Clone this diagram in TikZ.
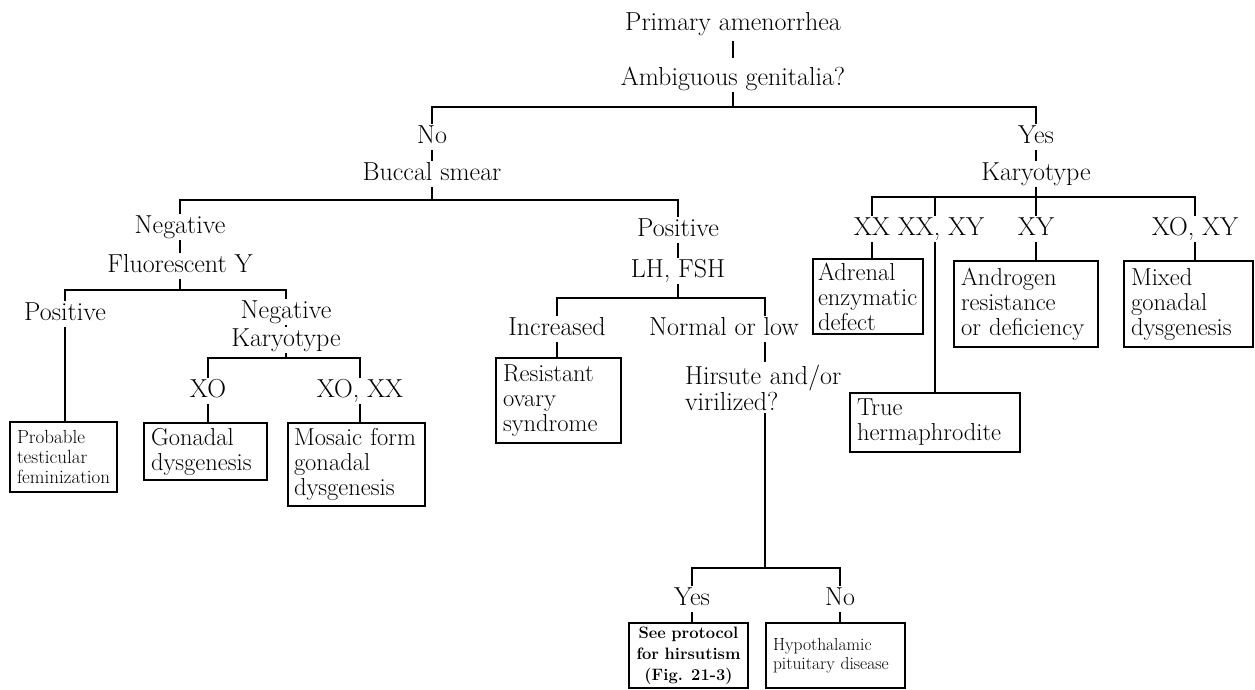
\documentclass[tikz,border=0pt]{standalone}
\begin{document}
\begin{tikzpicture}[x=1pt,y=-1pt,line width=1.8pt,
	txt/.style={font=\fontsize{26}{24}\selectfont},
	lbl/.style={txt,text height=17pt,text depth=4pt,inner xsep=2pt,inner ysep=2pt},
	box/.style={draw,line width=2.2pt,align=left,font=\fontsize{24.5}{25}\selectfont,inner xsep=7pt,inner ysep=4pt},
	smallbox/.style={box,font=\fontsize{19}{20}\selectfont}]
\useasboundingbox (0,0) rectangle (1255,690);
% top of the tree
\node[lbl] (prim) at (733,24) {Primary amenorrhea};
\node[lbl] (amb) at (733,79) {Ambiguous genitalia?};
\node[lbl] (no) at (432,137) {No};
\node[lbl] (buc) at (432,174) {Buccal smear};
\node[lbl] (yes) at (1036,137) {Yes};
\node[lbl] (kar) at (1036,174) {Karyotype};
\coordinate (j1) at (733,107);
\draw[shorten <=4pt,shorten >=8pt] (prim) -- (amb);
\draw (amb) -- (j1);
\draw (no) |- (j1) -| (yes);
\draw (no) -- (buc);
\draw (yes) -- (kar);
% buccal smear
\node[lbl] (neg) at (180,227) {Negative};
\node[lbl] (flu) at (180,266) {Fluorescent Y};
\node[lbl] (pos) at (678,230) {Positive};
\node[lbl] (lh) at (678,271) {LH, FSH};
\coordinate (j2) at (432,200);
\draw (buc) -- (j2);
\draw (neg) |- (j2) -| (pos);
\draw (neg) -- (flu);
\draw (pos) -- (lh);
% fluorescent Y
\node[lbl] (posl) at (65,314) {Positive};
\node[lbl] (negr) at (286,312) {Negative};
\node[lbl] (kar2) at (286,340) {Karyotype};
\node[lbl] (xo) at (208,391) {XO};
\node[lbl] (xoxx) at (360,391) {XO, XX};
\node[smallbox,text width=93pt,minimum height=70pt] (prob) at (63.5,457) {Probable\\testicular\\feminization};
\node[box,text width=109pt,minimum height=57pt] (gon) at (205.5,451.5) {Gonadal\\dysgenesis};
\node[box,text width=125pt,minimum height=83pt,inner xsep=6pt] (mos) at (356.5,464.5) {Mosaic form\\gonadal\\dysgenesis};
\coordinate (j3) at (180,290);
\coordinate (j5) at (286,358);
\draw (flu) -- (j3);
\draw (posl) |- (j3) -| (negr);
\draw (negr) -- (kar2);
\draw (kar2) -- (j5);
\draw (xo) |- (j5) -| (xoxx);
\draw (posl.south) -- (posl.south |- prob.north);
\draw (xo.south) -- (xo.south |- gon.north);
\draw (xoxx.south) -- (xoxx.south |- mos.north);
% LH, FSH
\node[lbl] (inc) at (557,329) {Increased};
\node[lbl] (norm) at (724,329) {Normal or low};
\node[box,text width=111pt,minimum height=85pt] (res) at (558.5,400.5) {Resistant\\ovary\\syndrome};
\node[txt,align=left,text width=160pt,inner sep=2pt,anchor=north] (hirs) at (765,362) {Hirsute and/or\\virilized?};
\node[lbl] (yesb) at (692,599) {Yes};
\node[lbl] (nob) at (840,599) {No};
\node[box,font=\bfseries\fontsize{16.5}{21}\selectfont,align=center,text width=105pt,minimum height=65pt] (see) at (688.5,655.5) {See protocol\\for hirsutism\\(Fig. 21-3)};
\node[box,font=\fontsize{17.5}{19}\selectfont,text width=125pt,minimum height=65pt] (hyp) at (835.5,655.5) {Hypothalamic\\pituitary disease};
\coordinate (j4) at (678,298);
\coordinate (j7) at (765,568);
\draw (lh) -- (j4);
\draw (inc) |- (j4) -| (norm.north -| hirs.north);
\draw (norm.south -| hirs.north) -- (hirs);
\draw (inc.south) -- (inc.south |- res.north);
\draw (hirs) -- (j7);
\draw (yesb) |- (j7) -| (nob);
\draw (yesb.south) -- (yesb.south |- see.north);
\draw (nob.south) -- (nob.south |- hyp.north);
% karyotype
\node[lbl] (xx) at (872,229) {XX};
\node[lbl] (xxxy) at (941,229) {XX, XY};
\node[lbl] (xy) at (1036,229) {XY};
\node[lbl] (xoxy) at (1195,229) {XO, XY};
\node[box,text width=100pt,minimum height=75pt,inner xsep=5pt] (adr) at (868,296.5) {Adrenal\\enzymatic\\defect};
\node[box,text width=156pt,minimum height=59pt] (herm) at (935,422.5) {True\\hermaphrodite};
\node[box,text width=130pt,minimum height=86pt] (andr) at (1026,304) {Androgen\\resistance\\or deficiency};
\node[box,text width=115pt,minimum height=86pt] (mix) at (1188.5,304) {Mixed\\gonadal\\dysgenesis};
\coordinate (j6) at (1036,197);
\draw (kar) -- (j6);
\draw (xx) |- (j6) -| (xoxy);
\draw (xy) -- (j6);
\draw (xxxy.north -| herm.north) -- (j6 -| herm.north);
\draw (xxxy.south -| herm.north) -- (herm);
\draw (xx.south) -- (xx.south |- adr.north);
\draw (xy.south) -- (xy.south |- andr.north);
\draw (xoxy.south) -- (xoxy.south |- mix.north);
\end{tikzpicture}
\end{document}
